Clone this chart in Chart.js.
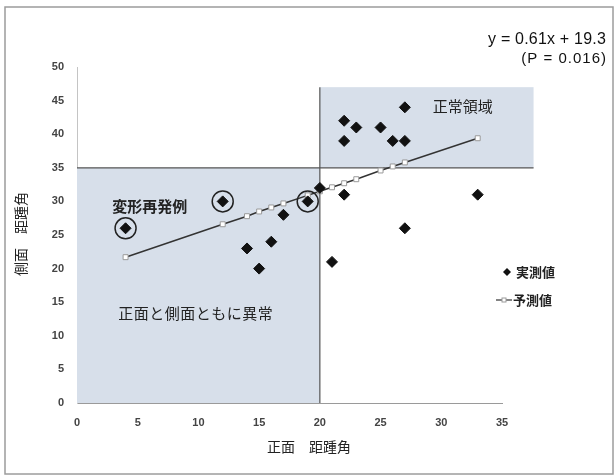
<!DOCTYPE html>
<html>
<head>
<meta charset="utf-8">
<script src="https://cdn.jsdelivr.net/npm/chart.js@4/dist/chart.umd.min.js"></script>
<style>
  html, body { margin: 0; padding: 0; background: #fff; }
  canvas { display: block; }
</style>
</head>
<body>
<canvas id="chart" width="616" height="476"></canvas>
<script>
// Frontal vs. lateral talocalcaneal angle (degrees)
const measuredX = [4, 12, 14, 15, 16, 17, 19, 20, 21, 22, 22, 22, 23, 25, 26, 27, 27, 27, 33];
const measuredY = [26, 30, 23, 20, 24, 28, 30, 32, 21, 42, 39, 31, 41, 41, 39, 44, 39, 26, 31];

// Regression estimates at each observed frontal angle
const predictedX = [4, 12, 14, 15, 16, 17, 19, 20, 21, 22, 23, 25, 26, 27, 33];
const predictedY = [21.7, 26.6, 27.8, 28.5, 29.1, 29.7, 30.9, 31.5, 32.1, 32.7, 33.3, 34.6, 35.2, 35.8, 39.4];

// Cases of recurrent deformity (circled)
const relapseX = [4, 12, 19];
const relapseY = [26, 30, 30];

// Axis ranges and tick step
const xRange = [0, 35];
const yRange = [0, 50];
const tickStep = 5;

// Normal limits of each angle
const frontalLimit = 20;
const lateralLimit = 35;

const seriesNames = ['実測値', '予測値'];
const axisTitles = ['正面\u3000距踵角', '側面\u3000距踵角'];
const equationText = ['y = 0.61x + 19.3', '(P = 0.016)'];

const pts = (xs, ys) => xs.map((x, i) => ({ x: x, y: ys[i] }));

const jpFont = '"Noto Sans CJK JP", "Noto Sans", sans-serif';
const latinFont = '"Liberation Sans", Arial, sans-serif';

const regionsPlugin = {
  id: 'regions',
  beforeDatasetsDraw(chart) {
    const { ctx } = chart;
    const xs = chart.scales.x, ys = chart.scales.y;
    const px = v => xs.getPixelForValue(v);
    const py = v => ys.getPixelForValue(v);
    const farX = 37.6, highY = 47;
    ctx.save();
    ctx.fillStyle = '#d7dfea';
    // both angles abnormal
    ctx.fillRect(px(xRange[0]), py(lateralLimit), px(frontalLimit) - px(xRange[0]), py(yRange[0]) - py(lateralLimit));
    // normal region
    ctx.fillRect(px(frontalLimit), py(highY), px(farX) - px(frontalLimit), py(lateralLimit) - py(highY));
    ctx.strokeStyle = '#555';
    ctx.lineWidth = 1.2;
    ctx.beginPath();
    ctx.moveTo(px(xRange[0]), py(lateralLimit));
    ctx.lineTo(px(farX), py(lateralLimit));
    ctx.moveTo(px(frontalLimit), py(highY));
    ctx.lineTo(px(frontalLimit), py(yRange[0]));
    ctx.stroke();
    ctx.restore();
  }
};

const annotationsPlugin = {
  id: 'annotations',
  afterDraw(chart) {
    const { ctx } = chart;
    const xs = chart.scales.x, ys = chart.scales.y;
    const px = v => xs.getPixelForValue(v);
    const py = v => ys.getPixelForValue(v);
    ctx.save();
    ctx.fillStyle = '#222';
    ctx.textBaseline = 'middle';
    ctx.textAlign = 'left';
    ctx.font = 'bold 15px ' + jpFont;
    ctx.fillText('変形再発例', px(2.9), py(29.3));
    ctx.font = '15px ' + jpFont;
    ctx.fillText('正常領域', px(29.3), py(44.2));
    ctx.letterSpacing = '0.5px';
    ctx.fillText('正面と側面ともに異常', px(3.4), py(13.4));
    ctx.letterSpacing = '0px';

    // axis titles
    ctx.textAlign = 'center';
    ctx.font = '14px ' + jpFont;
    ctx.fillText(axisTitles[0], 309, 447);
    ctx.save();
    ctx.translate(21, 234);
    ctx.rotate(-Math.PI / 2);
    ctx.fillText(axisTitles[1], 0, 0);
    ctx.restore();

    // regression equation
    ctx.textAlign = 'right';
    ctx.fillStyle = '#111';
    ctx.font = '16px ' + latinFont;
    ctx.letterSpacing = '0.2px';
    ctx.fillText(equationText[0], 606, 40);
    ctx.font = '15px ' + latinFont;
    ctx.letterSpacing = '1px';
    ctx.fillText(equationText[1], 607, 59);
    ctx.letterSpacing = '0px';

    // legend
    const m = chart.data.datasets[0];
    const p = chart.data.datasets[1];
    ctx.textAlign = 'left';
    ctx.font = 'bold 13px ' + jpFont;
    const lx = 507, ly1 = 272, ly2 = 300;
    ctx.fillStyle = m.backgroundColor;
    ctx.beginPath();
    ctx.moveTo(lx - 4, ly1); ctx.lineTo(lx, ly1 - 4); ctx.lineTo(lx + 4, ly1); ctx.lineTo(lx, ly1 + 4);
    ctx.closePath(); ctx.fill();
    ctx.fillStyle = '#222';
    ctx.fillText(seriesNames[0], lx + 9, ly1);
    ctx.strokeStyle = p.borderColor;
    ctx.lineWidth = 1.2;
    ctx.beginPath(); ctx.moveTo(lx - 11, ly2); ctx.lineTo(lx + 5, ly2); ctx.stroke();
    ctx.fillStyle = '#fff';
    ctx.strokeStyle = p.pointBorderColor;
    ctx.lineWidth = 1;
    ctx.fillRect(lx - 5, ly2 - 2, 4, 4);
    ctx.strokeRect(lx - 5, ly2 - 2, 4, 4);
    ctx.fillStyle = '#222';
    ctx.fillText(seriesNames[1], lx + 6, ly2);

    // outer frame
    ctx.strokeStyle = '#9c9c9c';
    ctx.lineWidth = 1.5;
    ctx.strokeRect(5, 7, 608, 467);
    ctx.restore();
  }
};

new Chart(document.getElementById('chart'), {
  type: 'scatter',
  data: {
    datasets: [
      {
        label: seriesNames[0],
        data: pts(measuredX, measuredY),
        pointStyle: 'rectRot',
        pointRadius: 5.5,
        backgroundColor: '#111',
        borderColor: '#111',
        borderWidth: 1,
        order: 0
      },
      {
        label: seriesNames[1],
        data: pts(predictedX, predictedY),
        showLine: true,
        borderColor: '#333',
        borderWidth: 1.5,
        pointStyle: 'rect',
        pointRadius: 3.5,
        pointBackgroundColor: '#fff',
        pointBorderColor: '#9a9a9a',
        pointBorderWidth: 1,
        order: 2
      },
      {
        label: '変形再発例',
        data: pts(relapseX, relapseY),
        pointStyle: 'circle',
        pointRadius: 10.5,
        backgroundColor: 'rgba(0,0,0,0)',
        borderColor: '#222',
        borderWidth: 1.5,
        order: 1
      }
    ]
  },
  options: {
    responsive: false,
    animation: false,
    events: [],
    layout: { padding: { left: 0, top: 67, right: 114, bottom: 0 } },
    plugins: {
      legend: { display: false },
      tooltip: { enabled: false }
    },
    scales: {
      x: {
        type: 'linear',
        min: xRange[0], max: xRange[1],
        afterFit(scale) { scale.height = 73; },
        grid: { display: false, drawTicks: false },
        border: { display: true, color: '#9a9a9a', width: 1 },
        ticks: {
          stepSize: tickStep,
          padding: 13,
          color: '#444',
          font: { family: latinFont, size: 11, weight: 'bold' }
        }
      },
      y: {
        type: 'linear',
        min: yRange[0], max: yRange[1],
        afterFit(scale) { scale.width = 77; },
        grid: { display: false, drawTicks: false },
        border: { display: true, color: '#c4c4c4', width: 1 },
        ticks: {
          stepSize: tickStep,
          padding: 13,
          color: '#444',
          font: { family: latinFont, size: 11, weight: 'bold' }
        }
      }
    }
  },
  plugins: [regionsPlugin, annotationsPlugin]
});
</script>
</body>
</html>
